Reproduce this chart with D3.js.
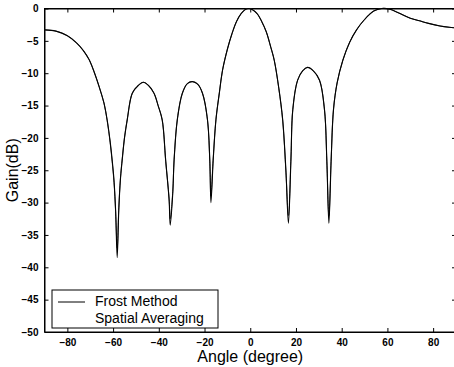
<!DOCTYPE html>
<html>
<head>
<meta charset="utf-8">
<script src="https://cdn.jsdelivr.net/npm/d3@7"></script>
<style>
  body { margin: 0; background: #fff; }
  text { font-family: "Liberation Sans", Arial, sans-serif; }
</style>
</head>
<body>
<div class="chart"></div>
<script>
// angles (degree)
const angles = [-90, -85, -80, -76, -73, -70.5, -68.4, -66, -64, -62.6, -61.3, -60.4, -59.6, -58.9, -58.2, -57.5, -56.8, -56, -55, -53.8, -51.6, -49, -46.8, -44.5, -42.1, -40.3, -38.5, -37, -35.5, -35, -33.9, -33.3, -31.9, -29.7, -27.5, -25.3, -23, -20.9, -18.7, -17.7, -17.2, -16.2, -15, -13.5, -12.1, -10, -8, -6, -4, -2, -0.5, 1, 3, 5, 7, 9, 10.5, 12.5, 14.2, 15.6, 16.7, 17.8, 18.6, 20.7, 23, 25.1, 27.5, 30.3, 32.5, 33.5, 34.4, 35.4, 36.4, 38, 40.5, 43.5, 46.5, 50, 54, 57.5, 61, 65, 70, 74, 78, 83, 87, 90];

// Frost Method gain (dB)
const frost = [-3.3, -3.5, -4.2, -5.3, -6.5, -7.9, -9.7, -12.2, -14.6, -17.2, -20.5, -23.4, -26.5, -31.1, -38.5, -31.1, -26.5, -23.4, -20.0, -17.2, -13.1, -11.9, -11.4, -11.9, -13.1, -15.0, -17.2, -23.4, -29.6, -33.5, -28.6, -23.4, -17.2, -13.1, -11.6, -11.3, -11.7, -13.1, -17.2, -23.4, -30.0, -23.4, -17.2, -13.0, -9.5, -6.3, -3.9, -2.0, -0.8, -0.1, 0, -0.2, -0.8, -2.0, -3.6, -6.0, -8.0, -12.3, -17.2, -25.0, -33.2, -23.4, -15.7, -11.1, -9.6, -9.1, -9.6, -11.1, -15.7, -23.4, -33.2, -23.4, -15.7, -11.5, -8.0, -5.2, -3.3, -1.7, -0.4, 0, -0.1, -0.7, -1.5, -1.9, -2.3, -2.7, -2.9, -3.0];

// Spatial Averaging gain (dB) - almost on top of the Frost curve
const spatial = [-3.3, -3.5, -4.2, -5.3, -6.5, -7.9, -9.7, -12.2, -14.6, -17.3, -20.7, -23.7, -26.9, -31.4, -37.0, -30.8, -26.3, -23.2, -19.9, -17.1, -13.1, -11.9, -11.4, -11.9, -13.1, -15.0, -17.3, -23.6, -29.3, -32.5, -28.3, -23.3, -17.1, -13.1, -11.6, -11.3, -11.7, -13.1, -17.3, -23.6, -29.0, -23.1, -17.1, -13.0, -9.5, -6.3, -3.9, -2.0, -0.8, -0.1, 0, -0.2, -0.8, -2.0, -3.6, -6.0, -8.0, -12.4, -17.4, -25.3, -32.0, -23.1, -15.6, -11.1, -9.6, -9.1, -9.6, -11.1, -15.8, -23.7, -32.0, -23.1, -15.6, -11.5, -8.0, -5.2, -3.3, -1.7, -0.4, 0, -0.1, -0.7, -1.5, -1.9, -2.3, -2.7, -2.9, -3.0];

const xTicks = [-80, -60, -40, -20, 0, 20, 40, 60, 80];
const yTicks = [0, -5, -10, -15, -20, -25, -30, -35, -40, -45, -50];
const legendNames = ["Frost Method", "Spatial Averaging"];

let svgWidth = 454;
let svgHeight = 367;
const margin = {top: 8.5, right: -2, bottom: 35, left: 44.5};
let chartWidth = svgWidth - margin.left - margin.right;
let chartHeight = svgHeight - margin.top - margin.bottom;

let svg = d3.select(".chart")
  .append("svg")
  .attr("width", svgWidth)
  .attr("height", svgHeight);

let chart = svg.append("g")
  .attr("transform", `translate(${margin.left},${margin.top})`);

let x = d3.scaleLinear().domain([-90, 90]).range([0, chartWidth]);
let y = d3.scaleLinear().domain([-50, 0]).range([chartHeight, 0]);

// frame
chart.append("rect")
  .attr("width", chartWidth).attr("height", chartHeight)
  .attr("fill", "none").attr("stroke", "#000").attr("stroke-width", 1);

// axes, ticks pointing inward like matlab
let bottomAxis = d3.axisBottom(x).tickValues(xTicks).tickSizeInner(-4).tickSizeOuter(0).tickPadding(7);
let leftAxis = d3.axisLeft(y).tickValues(yTicks).tickSizeInner(-4).tickSizeOuter(0).tickPadding(6);

let gx = chart.append("g").attr("transform", `translate(0,${chartHeight})`).call(bottomAxis);
let gy = chart.append("g").call(leftAxis);
chart.append("g").call(d3.axisTop(x).tickValues(xTicks).tickSizeInner(-4).tickSizeOuter(0).tickFormat(""));
chart.append("g").attr("transform", `translate(${chartWidth},0)`)
  .call(d3.axisRight(y).tickValues(yTicks).tickSizeInner(-4).tickSizeOuter(0).tickFormat(""));

chart.selectAll(".domain").attr("stroke", "#000");
chart.selectAll(".tick line").attr("stroke", "#000");
[gx, gy].forEach(g => g.selectAll("text")
  .attr("font-size", 10).attr("font-weight", "bold").attr("fill", "#000")
  .attr("font-family", "'Liberation Sans', Arial, sans-serif"));

// curves
let line = d3.line()
  .x((d, i) => x(angles[i]))
  .y(d => y(d))
  .curve(d3.curveCatmullRom.alpha(0.5));

chart.append("path").datum(spatial)
  .attr("d", line).attr("fill", "none")
  .attr("stroke", "#333").attr("stroke-width", 1);
chart.append("path").datum(frost)
  .attr("d", line).attr("fill", "none")
  .attr("stroke", "#000").attr("stroke-width", 1.1);

// legend
let legend = chart.append("g").attr("transform", `translate(${52 - margin.left},${290 - margin.top})`);
legend.append("rect")
  .attr("width", 166).attr("height", 38)
  .attr("fill", "#fff").attr("stroke", "#000").attr("stroke-width", 1);
legend.append("line")
  .attr("x1", 6).attr("x2", 33).attr("y1", 12).attr("y2", 12)
  .attr("stroke", "#000").attr("stroke-width", 1);
legend.selectAll("text.leg")
  .data(legendNames)
  .enter().append("text")
  .attr("class", "leg")
  .attr("x", 43)
  .attr("y", (d, i) => 16 + i * 17)
  .attr("font-size", 14)
  .attr("fill", "#000")
  .text(d => d);

// axis titles
svg.append("text")
  .attr("x", margin.left + x(0)).attr("y", 362)
  .attr("text-anchor", "middle").attr("font-size", 16)
  .text("Angle (degree)");
svg.append("text")
  .attr("transform", `translate(18,${margin.top + chartHeight / 2}) rotate(-90)`)
  .attr("text-anchor", "middle").attr("font-size", 16)
  .text("Gain(dB)");
</script>
</body>
</html>
